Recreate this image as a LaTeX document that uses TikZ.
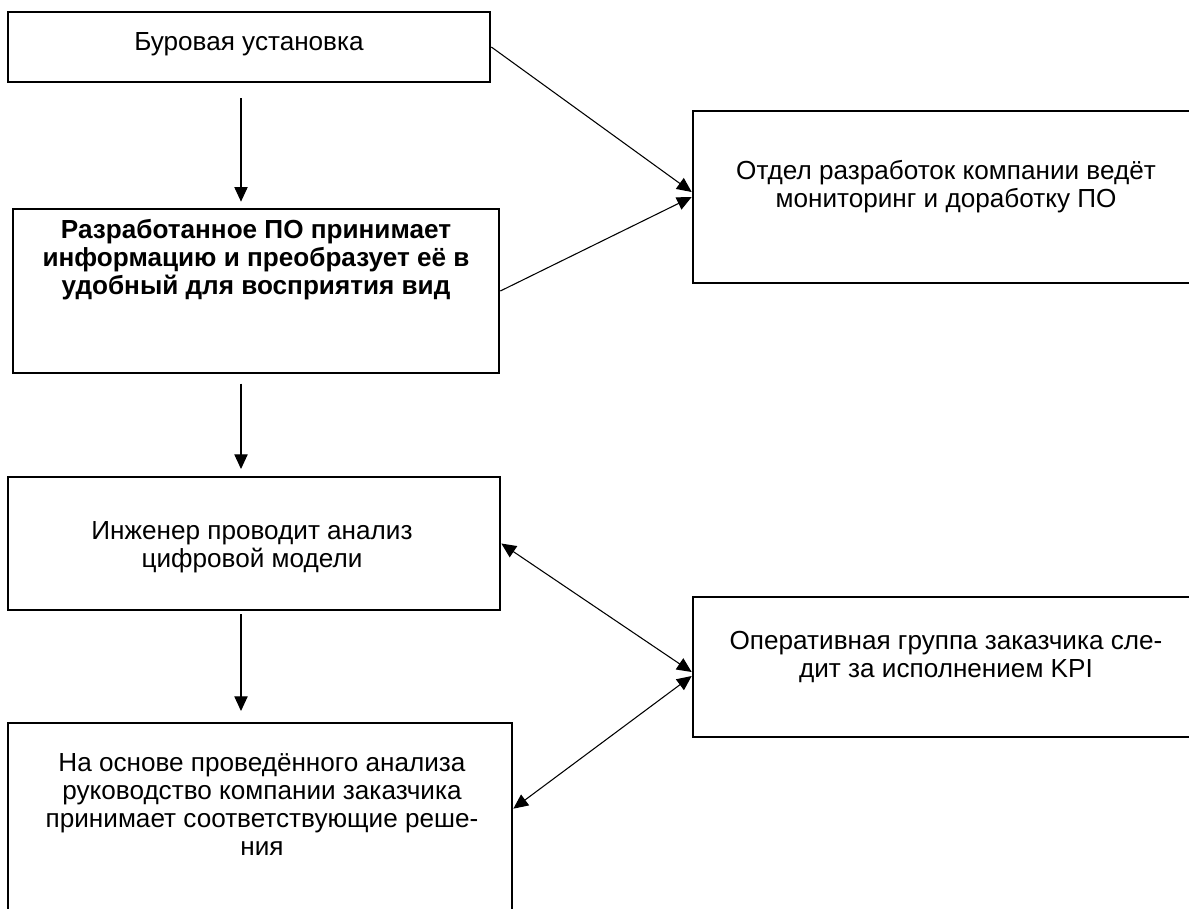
\documentclass[tikz,border=0pt]{standalone}
\usepackage{fontspec}
\setmainfont{Liberation Sans}
\usetikzlibrary{arrows.meta,calc,positioning}

\begin{document}
\begin{tikzpicture}[x=0.75pt,y=-0.75pt,
    box/.style={draw,line width=2pt,rectangle,inner sep=0pt},
    txt/.style={align=center,font=\fontsize{19.6}{21}\selectfont},
    flow/.style={-{Triangle[length=11pt,width=10pt]},line width=0.8pt},
    both/.style={{Triangle[length=11pt,width=10pt]}-{Triangle[length=11pt,width=10pt]},line width=0.8pt}]
      % Page frame
      \clip (0,0) rectangle (1189,908);
      % Define coordinates
      \coordinate (ax) at (241,0);
      % Left column boxes
      \node[box,minimum width=361.5pt,minimum height=52.5pt] (bur) at (249,47) {};
      \node[box,minimum width=364.5pt,minimum height=123pt] (po) at (256,291) {};
      \node[box,minimum width=369pt,minimum height=99.75pt] (eng) at (254,543.5) {};
      \node[box,minimum width=378pt,minimum height=177.75pt] (dec) at (260,841.5) {};
      % Right column boxes
      \node[box,minimum width=395.25pt,minimum height=129pt] (dev) at (956.5,197) {};
      \node[box,minimum width=395.25pt,minimum height=105pt] (grp) at (956.5,667) {};
      % Texts
      \node[txt] (burtext) at (249,44) {Буровая установка};
      \node[txt,font=\fontsize{19.6}{21}\selectfont\bfseries] (potext) at (256,260)
        {Разработанное ПО принимает\\информацию и преобразует её в\\удобный для восприятия вид};
      \node[txt] (engtext) at (252,547) {Инженер проводит анализ\\цифровой модели};
      \node[txt] (dectext) at (262,804) {На основе проведённого анализа\\руководство компании заказчика\\принимает соответствующие реше-\\ния};
      \node[txt] (devtext) at (946,187) {Отдел разработок компании ведёт\\мониторинг и доработку ПО};
      \node[txt] (grptext) at (946,657) {Оперативная группа заказчика сле-\\дит за исполнением KPI};
      % Vertical arrows
      \draw[flow,shorten <=11pt,shorten >=4.5pt] (bur.south -| ax) -- (po.north -| ax);
      \draw[flow,shorten <=7pt,shorten >=5pt] (po.south -| ax) -- (eng.north -| ax);
      \draw[flow,shorten <=2pt,shorten >=8pt] (eng.south -| ax) -- (dec.north -| ax);
      % Diagonal arrows
      \draw[flow] (bur.east) -- ($(dev.west)+(0,-5)$);
      \draw[flow] (po.east) -- (dev.west);
      \draw[both] (eng.east) -- ($(grp.west)+(0,5)$);
      \draw[both] ($(dec.north east)+(0,87)$) -- ($(grp.west)+(0,9)$);
    \end{tikzpicture}
\end{document}
